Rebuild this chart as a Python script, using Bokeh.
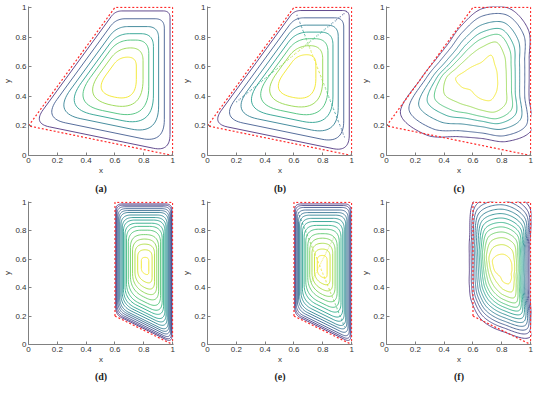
import numpy as np
from bokeh.plotting import figure
from bokeh.layouts import gridplot
from bokeh.models import Range1d, FixedTicker, Title
from bokeh.palettes import Viridis256
from bokeh.embed import file_html
from bokeh.resources import INLINE

# ---------------- data ----------------
tick_values = [0, 0.2, 0.4, 0.6, 0.8, 1]
tick_labels = ["0", "0.2", "0.4", "0.6", "0.8", "1"]
captions = ["(a)", "(b)", "(c)", "(d)", "(e)", "(f)"]

# computational domains (corner points)
quad_x = [0.0, 0.6, 1.0, 1.0]
quad_y = [0.2, 1.0, 1.0, 0.0]
strip_x = [0.6, 0.6, 1.0, 1.0]
strip_y = [0.2, 1.0, 1.0, 0.0]

# panels (a), (b), (d), (e): contour levels as relative size about the vortex centre
a_centre = [0.64, 0.52]
a_levels = [0.95, 0.84, 0.73, 0.63, 0.54, 0.43, 0.30]
b_centre = [0.635, 0.53]
b_levels = [0.955, 0.85, 0.745, 0.645, 0.55, 0.45, 0.32]
d_centre = [0.81, 0.555]
d_levels = [0.975, 0.955, 0.93, 0.90, 0.87, 0.84, 0.80, 0.76, 0.72, 0.67,
            0.62, 0.56, 0.49, 0.42, 0.34, 0.25, 0.13]
e_centre = [0.795, 0.55]
e_levels = [0.975, 0.95, 0.92, 0.88, 0.84, 0.80, 0.75, 0.70, 0.64, 0.58,
            0.51, 0.44, 0.36, 0.27, 0.17]

# panels (c), (f): outer / inner contour radii (every 22.5 deg) and level blend
c_centre = [0.66, 0.52]
c_r_outer = [0.33, 0.357, 0.46, 0.51, 0.47, 0.38, 0.33, 0.342,
             0.42, 0.61, 0.54, 0.425, 0.405, 0.46, 0.49, 0.357]
c_r_inner = [0.11, 0.115, 0.13, 0.17, 0.11, 0.10, 0.106, 0.126,
             0.18, 0.15, 0.11, 0.12, 0.14, 0.16, 0.14, 0.12]
c_levels = [1.0, 0.86, 0.70, 0.56, 0.44, 0.28, 0.0]

f_centre = [0.81, 0.52]
f_r_outer = [0.185, 0.20, 0.26, 0.48, 0.56, 0.53, 0.33, 0.255,
             0.235, 0.255, 0.31, 0.38, 0.43, 0.50, 0.262, 0.20]
f_r_inner = [0.06, 0.065, 0.08, 0.10, 0.115, 0.115, 0.105, 0.075,
             0.06, 0.05, 0.045, 0.05, 0.08, 0.10, 0.08, 0.06]
f_levels = [1.0, 0.92, 0.85, 0.78, 0.71, 0.64, 0.57, 0.50, 0.43, 0.35, 0.26, 0.15, 0.0]

# layout (figure sizes in px)
col_widths = [179, 179, 176]
col_right = [6, 6, 3]
row_heights = [197, 186]
row_top = [6, 4]
row_bottom = [41, 34]
caption_standoff = [7, 4]


# ---------------- geometry helpers ----------------
def level_colours(n):
    return [Viridis256[int(round((0.12 + 0.86 * k / (n - 1)) * 255))] for k in range(n)]


def rounded_contour(vx, vy, centre, t, samples=18):
    cx, cy = centre
    qx = cx + t * (np.asarray(vx) - cx)
    qy = cy + t * (np.asarray(vy) - cy)
    pts = np.column_stack([qx, qy])
    n = len(pts)
    f = min(0.5, 0.1 + 0.8 * (1 - t) ** 1.2)
    s = np.linspace(0, 1, samples)[:, None]
    out = []
    for i in range(n):
        p0, p1, p2 = pts[i - 1], pts[i], pts[(i + 1) % n]
        l1 = np.hypot(*(p0 - p1))
        l2 = np.hypot(*(p2 - p1))
        d = f * min(l1, l2)
        a = p1 + d * (p0 - p1) / l1
        b = p1 + d * (p2 - p1) / l2
        out.append((1 - s) ** 2 * a + 2 * (1 - s) * s * p1 + s ** 2 * b)
    curve = np.vstack(out + [out[0][:1]])
    return list(curve[:, 0]), list(curve[:, 1])


def polar_contour(centre, r_out, r_in, s, per=20):
    r_out = np.asarray(r_out)
    r_in = np.asarray(r_in)
    r = r_in + s * (r_out - r_in)
    n = len(r)
    ang = np.arange(n) * 2 * np.pi / n
    P = np.column_stack([centre[0] + r * np.cos(ang), centre[1] + r * np.sin(ang)])
    u = np.linspace(0, 1, per, endpoint=False)[:, None]
    segs = []
    for i in range(n):
        p0, p1, p2, p3 = P[i - 1], P[i], P[(i + 1) % n], P[(i + 2) % n]
        seg = 0.5 * (2 * p1 + (-p0 + p2) * u + (2 * p0 - 5 * p1 + 4 * p2 - p3) * u ** 2
                     + (-p0 + 3 * p1 - 3 * p2 + p3) * u ** 3)
        segs.append(seg)
    curve = np.vstack(segs + [P[:1]])
    return list(curve[:, 0]), list(curve[:, 1])


def gauge(vx, vy, centre, px, py):
    V = np.column_stack([vx, vy])
    C = np.asarray(centre)
    q = np.array([px, py]) - C
    best = 0.0
    for i in range(len(V)):
        a, b = V[i], V[(i + 1) % len(V)]
        e = b - a
        nrm = np.array([e[1], -e[0]])
        h = nrm @ (a - C)
        if h < 0:
            nrm, h = -nrm, -h
        best = max(best, (nrm @ q) / h)
    return best


def diagonal(p, vx, vy, centre, levels, i0, i1, lo, hi, alpha=0.75):
    A = np.array([vx[i0], vy[i0]])
    B = np.array([vx[i1], vy[i1]])
    n = len(levels)
    fr = np.linspace(lo, hi, 31)
    xs, ys, cols = [], [], []
    for j in range(len(fr) - 1):
        P0 = A + fr[j] * (B - A)
        P1 = A + fr[j + 1] * (B - A)
        m = 0.5 * (P0 + P1)
        t = gauge(vx, vy, centre, m[0], m[1])
        k = np.interp(t, levels[::-1], np.arange(n)[::-1])
        v = 0.12 + 0.86 * k / (n - 1)
        xs.append([P0[0], P1[0]])
        ys.append([P0[1], P1[1]])
        cols.append(Viridis256[int(round(v * 255))])
    p.multi_line(xs, ys, line_color=cols, line_width=1.1, line_dash="1 2", line_alpha=alpha)


def base_figure(caption, col, row):
    p = figure(width=col_widths[col], height=row_heights[row],
               x_range=Range1d(0, 1.006), y_range=Range1d(0, 1.006),
               output_backend="svg", toolbar_location=None,
               min_border_left=27, min_border_right=col_right[col],
               min_border_top=row_top[row], min_border_bottom=row_bottom[row],
               x_axis_label="x", y_axis_label="y")
    p.grid.visible = False
    p.outline_line_color = None
    for ax in (p.xaxis, p.yaxis):
        ax.ticker = FixedTicker(ticks=tick_values)
        ax.major_label_overrides = dict(zip(tick_values, tick_labels))
        ax.major_label_text_font_size = "8px"
        ax.major_label_text_font = "Liberation Sans"
        ax.major_label_text_color = "#333333"
        ax.axis_label_text_font_size = "8px"
        ax.axis_label_text_font = "Liberation Sans"
        ax.axis_label_text_font_style = "normal"
        ax.axis_label_text_color = "#333333"
        ax.axis_line_color = "#808080"
        ax.major_tick_line_color = "#808080"
        ax.major_tick_in = 3
        ax.major_tick_out = 0
        ax.minor_tick_line_color = None
        ax.major_label_standoff = 2
        ax.axis_label_standoff = 0
    p.add_layout(Title(text=caption, align="center", text_font="Liberation Serif",
                       text_font_size="10px", text_font_style="bold", text_color="#222222",
                       standoff=caption_standoff[row]), "below")
    return p


def draw_domain(p, vx, vy):
    p.line(list(vx) + [vx[0]], list(vy) + [vy[0]], line_color="#ff2a2a",
           line_width=1.2, line_dash="2 2")


def rounded_panel(caption, col, row, vx, vy, centre, levels):
    p = base_figure(caption, col, row)
    cols = level_colours(len(levels))
    for t, c in zip(levels, cols):
        x, y = rounded_contour(vx, vy, centre, t)
        p.line(x, y, line_color=c, line_width=1.0, line_alpha=0.85)
    draw_domain(p, vx, vy)
    return p


def polar_panel(caption, col, row, vx, vy, centre, r_out, r_in, levels):
    p = base_figure(caption, col, row)
    cols = level_colours(len(levels))
    for s, c in zip(levels, cols):
        x, y = polar_contour(centre, r_out, r_in, s)
        p.line(x, y, line_color=c, line_width=1.0, line_alpha=0.85)
    draw_domain(p, vx, vy)
    return p


pa = rounded_panel(captions[0], 0, 0, quad_x, quad_y, a_centre, a_levels)
pb = rounded_panel(captions[1], 1, 0, quad_x, quad_y, b_centre, b_levels)
diagonal(pb, quad_x, quad_y, b_centre, b_levels, 0, 2, 0.2, 0.97)
diagonal(pb, quad_x, quad_y, b_centre, b_levels, 1, 3, 0.05, 0.88)
pc = polar_panel(captions[2], 2, 0, quad_x, quad_y, c_centre, c_r_outer, c_r_inner, c_levels)
pd = rounded_panel(captions[3], 0, 1, strip_x, strip_y, d_centre, d_levels)
pe = rounded_panel(captions[4], 1, 1, strip_x, strip_y, e_centre, e_levels)
diagonal(pe, strip_x, strip_y, e_centre, e_levels, 1, 3, 0.07, 0.88)
diagonal(pe, strip_x, strip_y, e_centre, e_levels, 0, 2, 0.3, 0.7, alpha=0.5)
pf = polar_panel(captions[5], 2, 1, strip_x, strip_y, f_centre, f_r_outer, f_r_inner, f_levels)

grid = gridplot([[pa, pb, pc], [pd, pe, pf]], toolbar_location=None)
open("out.html", "w").write(file_html(grid, INLINE))
